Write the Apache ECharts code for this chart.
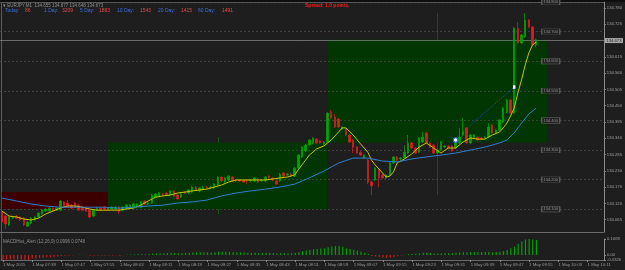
<!DOCTYPE html>
<html><head><meta charset="utf-8">
<script src="https://cdn.jsdelivr.net/npm/echarts@6/dist/echarts.min.js"></script>
<style>html,body{margin:0;padding:0;background:#1e1e1e;}#c{width:625px;height:270px;}</style>
</head><body><div id="c"></div>
<script>
// ---- data ----
const startMinute = 7 * 60 + 31; // first bar 07:31
const barCount = 165;            // slots on the time axis (incl. right margin)
const times = [];
for (let i = 0; i < barCount; i++) {
  const m = startMinute + i;
  times.push(String(Math.floor(m / 60)).padStart(2, '0') + ':' + String(m % 60).padStart(2, '0'));
}
// [open, close, low, high]
const candles = [
[134.091,134.057,134.053,134.097],[134.077,134.050,134.033,134.080],[134.047,134.074,134.043,134.077],[134.070,134.074,134.067,134.077],
[134.077,134.070,134.067,134.080],[134.074,134.064,134.060,134.077],[134.070,134.047,134.043,134.074],[134.043,134.057,134.040,134.060],
[134.053,134.070,134.050,134.074],[134.064,134.074,134.060,134.077],[134.074,134.087,134.070,134.091],[134.084,134.097,134.080,134.101],
[134.094,134.101,134.091,134.104],[134.094,134.104,134.091,134.107],[134.104,134.094,134.091,134.107],[134.097,134.104,134.094,134.107],
[134.097,134.128,134.094,134.131],[134.125,134.107,134.104,134.128],[134.121,134.107,134.104,134.131],[134.114,134.104,134.101,134.118],
[134.121,134.107,134.104,134.125],[134.114,134.097,134.094,134.118],[134.107,134.097,134.094,134.111],[134.104,134.094,134.091,134.107],
[134.097,134.074,134.070,134.101],[134.077,134.097,134.074,134.101],[134.097,134.104,134.094,134.107],[134.104,134.097,134.094,134.107],
[134.107,134.101,134.094,134.111],[134.101,134.104,134.094,134.107],[134.101,134.107,134.097,134.111],[134.101,134.107,134.097,134.111],
[134.107,134.091,134.084,134.111],[134.097,134.107,134.094,134.111],[134.101,134.114,134.097,134.118],[134.104,134.114,134.101,134.118],
[134.107,134.118,134.104,134.121],[134.111,134.118,134.107,134.121],[134.107,134.125,134.104,134.128],[134.128,134.118,134.114,134.131],
[134.118,134.121,134.114,134.125],[134.121,134.148,134.118,134.152],[134.141,134.152,134.138,134.155],[134.145,134.155,134.141,134.158],
[134.152,134.148,134.145,134.155],[134.155,134.148,134.145,134.158],[134.148,134.162,134.145,134.165],[134.162,134.145,134.141,134.165],
[134.148,134.135,134.131,134.152],[134.141,134.152,134.138,134.155],[134.158,134.155,134.152,134.162],[134.155,134.165,134.152,134.168],
[134.158,134.175,134.155,134.179],[134.175,134.165,134.162,134.179],[134.162,134.172,134.158,134.175],[134.168,134.175,134.165,134.179],
[134.175,134.172,134.168,134.179],[134.172,134.175,134.168,134.179],[134.172,134.185,134.168,134.189],[134.182,134.209,134.179,134.212],
[134.209,134.196,134.192,134.212],[134.192,134.206,134.189,134.209],[134.199,134.212,134.196,134.216],[134.209,134.196,134.192,134.212],
[134.199,134.196,134.192,134.202],[134.199,134.196,134.192,134.202],[134.199,134.192,134.189,134.202],[134.199,134.196,134.185,134.202],
[134.196,134.199,134.192,134.202],[134.196,134.206,134.192,134.209],[134.202,134.192,134.189,134.206],[134.196,134.199,134.192,134.202],
[134.196,134.209,134.192,134.212],[134.212,134.206,134.202,134.216],[134.206,134.199,134.196,134.209],[134.196,134.185,134.182,134.199],
[134.196,134.219,134.192,134.223],[134.223,134.212,134.209,134.226],[134.216,134.219,134.212,134.223],[134.219,134.212,134.209,134.223],
[134.212,134.239,134.209,134.243],[134.239,134.283,134.236,134.287],[134.277,134.310,134.273,134.314],[134.297,134.317,134.293,134.321],
[134.317,134.334,134.314,134.337],[134.324,134.341,134.321,134.344],[134.337,134.324,134.321,134.341],[134.331,134.324,134.321,134.334],
[134.321,134.327,134.317,134.331],[134.327,134.425,134.324,134.429],[134.429,134.408,134.405,134.435],[134.412,134.378,134.375,134.422],
[134.405,134.378,134.375,134.408],[134.371,134.378,134.368,134.381],[134.371,134.351,134.347,134.375],[134.351,134.327,134.324,134.354],
[134.334,134.310,134.290,134.337],[134.310,134.290,134.287,134.314],[134.293,134.283,134.280,134.297],[134.273,134.283,134.270,134.287],
[134.266,134.192,134.185,134.270],[134.192,134.179,134.148,134.196],[134.199,134.239,134.196,134.243],[134.233,134.206,134.175,134.236],
[134.216,134.206,134.202,134.219],[134.206,134.216,134.202,134.219],[134.216,134.256,134.212,134.260],[134.256,134.277,134.253,134.280],
[134.277,134.266,134.263,134.280],[134.270,134.273,134.266,134.277],[134.273,134.293,134.270,134.317],[134.290,134.324,134.287,134.351],
[134.324,134.307,134.304,134.327],[134.307,134.290,134.287,134.310],[134.293,134.341,134.290,134.344],[134.327,134.344,134.324,134.361],
[134.358,134.324,134.321,134.361],[134.324,134.310,134.307,134.327],[134.317,134.290,134.287,134.321],[134.290,134.300,134.287,134.304],
[134.300,134.327,134.297,134.331],[134.310,134.314,134.307,134.317],[134.314,134.307,134.304,134.317],[134.314,134.297,134.293,134.317],
[134.307,134.327,134.304,134.331],[134.324,134.344,134.321,134.375],[134.351,134.361,134.347,134.408],[134.375,134.324,134.321,134.378],
[134.324,134.351,134.321,134.354],[134.341,134.351,134.337,134.354],[134.344,134.334,134.331,134.347],[134.341,134.337,134.334,134.344],
[134.341,134.344,134.337,134.347],[134.344,134.378,134.341,134.391],[134.385,134.358,134.354,134.388],[134.358,134.368,134.354,134.371],
[134.368,134.402,134.364,134.405],[134.395,134.442,134.391,134.446],[134.429,134.469,134.425,134.472],[134.469,134.425,134.422,134.472],
[134.425,134.712,134.422,134.716],[134.712,134.662,134.658,134.732],[134.662,134.689,134.658,134.692],[134.682,134.739,134.679,134.763],
[134.739,134.716,134.712,134.743],[134.716,134.655,134.651,134.719],[134.655,134.673,134.648,134.677]
];
// fast MA (yellow), [bar index, value]
const maFast = [[0,134.094],[2,134.077],[4,134.074],[6,134.067],[8,134.064],[10,134.070],[12,134.084],[14,134.094],[16,134.104],[18,134.111],
[20,134.111],[22,134.107],[24,134.101],[26,134.097],[28,134.097],[30,134.097],[32,134.097],[34,134.101],[36,134.104],[38,134.114],[40,134.128],
[42,134.141],[44,134.145],[46,134.148],[48,134.155],[50,134.158],[52,134.162],[54,134.165],[56,134.168],[58,134.175],[60,134.182],[62,134.192],
[64,134.199],[66,134.199],[68,134.199],[70,134.199],[72,134.199],[74,134.202],[76,134.206],[78,134.209],[80,134.216],[81,134.233],[82,134.250],
[83,134.266],[84,134.283],[85,134.293],[86,134.304],[88,134.314],[90,134.334],[92,134.361],[93,134.375],[94,134.375],[96,134.351],[98,134.321],
[100,134.293],[101,134.266],[102,134.250],[104,134.223],[105,134.209],[106,134.212],[107,134.226],[108,134.256],[110,134.270],[112,134.287],
[114,134.310],[116,134.324],[118,134.307],[120,134.290],[122,134.307],[124,134.307],[126,134.327],[128,134.341],[130,134.337],[132,134.337],
[134,134.351],[136,134.361],[137,134.375],[138,134.391],[139,134.415],[140,134.442],[141,134.493],[142,134.537],[143,134.587],[144,134.628],
[145,134.655],[146,134.665]];
// slow MA (blue)
const maSlow = [[0,134.138],[4,134.128],[8,134.118],[12,134.111],[16,134.107],[20,134.107],[24,134.107],[28,134.107],[32,134.104],[36,134.107],
[40,134.111],[44,134.114],[48,134.121],[52,134.125],[56,134.131],[60,134.145],[64,134.155],[68,134.162],[72,134.168],[76,134.175],[80,134.185],
[84,134.206],[88,134.229],[92,134.256],[96,134.273],[100,134.273],[104,134.263],[108,134.260],[112,134.270],[116,134.277],[120,134.283],
[124,134.290],[128,134.300],[132,134.310],[136,134.324],[138,134.334],[140,134.358],[142,134.391],[144,134.422],[146,134.442]];
// MACD histogram
const macdHist = [-0.031,-0.029,-0.029,-0.028,-0.029,-0.029,-0.031,-0.033,-0.022,-0.022,-0.018,-0.018,-0.015,-0.014,-0.011,-0.009,-0.007,-0.005,
-0.003,-0.002,0.001,0.002,0.002,0.001,-0.002,-0.003,-0.002,-0.002,-0.003,-0.003,-0.002,-0.001,-0.004,0.001,0.002,0.004,0.004,0.005,0.006,0.006,
0.008,0.011,0.012,0.013,0.013,0.014,0.014,0.014,0.012,0.013,0.014,0.016,0.018,0.019,0.019,0.019,0.018,0.018,0.019,0.022,0.022,0.022,0.022,0.021,
0.019,0.018,0.017,0.015,0.015,0.015,0.014,0.014,0.015,0.015,0.014,0.011,0.013,0.014,0.013,0.012,0.014,0.020,0.027,0.030,0.034,0.038,0.041,0.043,
0.045,0.052,0.057,0.060,0.058,0.055,0.045,0.040,0.035,0.030,0.022,0.016,0.008,-0.006,-0.009,-0.013,-0.016,-0.018,-0.016,-0.012,-0.008,-0.003,
0.002,0.006,0.007,0.009,0.012,0.015,0.016,0.014,0.011,0.011,0.011,0.012,0.012,0.014,0.016,0.017,0.019,0.019,0.020,0.020,0.020,0.020,0.020,0.020,
0.017,0.021,0.023,0.027,0.034,0.045,0.057,0.075,0.091,0.104,0.1069,0.104,0.0996];
// hourly boxes: [start bar, end bar, hour open, hour close]
const hourBoxes = [[0, 29, 134.158, 134.101], [29, 89, 134.101, 134.325], [89, 149, 134.325, 134.673]];
// hourly high-low range markers: [bar, low, high, box index]
const hourRanges = [[59, 134.084, 134.344, 1], [119, 134.148, 134.763, 2]];
const priceTicks = [134.065,134.120,134.175,134.230,134.285,134.340,134.395,134.450,134.505,134.560,134.615,134.725,134.780];
const levelLines = [134.1,134.2,134.3,134.4,134.5,134.6,134.7,134.8];
const bid = 134.673;
const levelLabelBar = 150;
const trend = [[124, 134.341], [140, 134.513]];
const circleMark = [124, 134.334];
const macdTicks = [-0.0326, 0, 0.1069];
const header = 'EURJPY,M1  134.655 134.677 134.648 134.673';
const rangeNames = ['Today:', '1 Day:', '5 Day:', '10 Day:', '20 Day:', '60 Day:'];
const rangeValues = [86, 3209, 1883, 1543, 1415, 1491];

// ---- chart ----
const FONT = '"Liberation Sans", Arial, sans-serif';
const GREEN = '#00a800', RED = '#dc1e1e';
const every8 = (i) => i % 8 === 0;
const chart = echarts.init(document.getElementById('c'));

const nameX = [5, 44, 80, 117, 158, 198], valX = [25, 62, 99, 140, 181, 222];
const graphics = [
  {type:'rect', shape:{x:0, y:0, width:625, height:2}, style:{fill:'#0e0e0e'}, silent:true},
  {type:'line', shape:{x1:0, y1:2.5, x2:604, y2:2.5}, style:{stroke:'#5a5a5a', lineWidth:1}, silent:true},
  {type:'line', shape:{x1:1.5, y1:2, x2:1.5, y2:261}, style:{stroke:'#5a5a5a', lineWidth:1}, silent:true},
  {type:'text', x:3, y:5.8, style:{text:'▾ ' + header, fill:'#8f8f8f', font:'4.5px ' + FONT, verticalAlign:'middle'}},
  {type:'text', x:305, y:6, style:{text:'Spread: 1.0 points.', fill:'#ff1a1a', font:'bold 5px ' + FONT, verticalAlign:'middle'}},
  {type:'text', x:3, y:241.5, style:{text:'MACDHist_Alert (12,26,9) 0.0996 0.0748', fill:'#8f8f8f', font:'4.5px ' + FONT, verticalAlign:'middle'}}
];
rangeNames.forEach((n, k) => {
  graphics.push({type:'text', x:nameX[k], y:11, style:{text:n, fill:'#3f6fe0', font:'5px ' + FONT, verticalAlign:'middle'}});
  graphics.push({type:'text', x:valX[k], y:11, style:{text:String(rangeValues[k]), fill:'#e84848', font:'5px ' + FONT, verticalAlign:'middle'}});
});

// range lines drawn only outside their hour box
const rangeSegs = [];
hourRanges.forEach(r => {
  const b = hourBoxes[r[3]];
  const top = Math.max(b[2], b[3]), bot = Math.min(b[2], b[3]);
  const ls = {type:'solid', color:'#0d5a0d', width:1};
  if (r[2] > top) rangeSegs.push([{coord:[times[r[0]], top], lineStyle:ls, label:{show:false}}, {coord:[times[r[0]], r[2]]}]);
  if (r[1] < bot) rangeSegs.push([{coord:[times[r[0]], r[1]], lineStyle:ls, label:{show:false}}, {coord:[times[r[0]], bot]}]);
});

const option = {
  backgroundColor: '#1e1e1e',
  animation: false,
  grid: [
    {left: 0, right: 21, top: 2, height: 230},
    {left: 0, right: 21, top: 239, height: 21}
  ],
  xAxis: [
    {type:'category', gridIndex:0, data:times, boundaryGap:true,
     axisLine:{show:true, onZero:false, lineStyle:{color:'#6a6a6a', width:1}}, axisTick:{show:false}, axisLabel:{show:false}, splitLine:{show:false}},
    {type:'category', gridIndex:1, data:times, boundaryGap:true,
     axisLine:{show:true, onZero:false, lineStyle:{color:'#6a6a6a', width:1}},
     axisTick:{show:true, interval:(i)=>every8(i), alignWithLabel:true, length:2, lineStyle:{color:'#8a8a8a'}},
     axisLabel:{show:true, interval:(i)=>every8(i), align:'left', margin:2.5, color:'#9a9a9a', fontSize:4.3, fontFamily:FONT,
       formatter:(v, i) => i === 0 ? '1 May 2015' : '1 May ' + v},
     splitLine:{show:false}}
  ],
  yAxis: [
    {type:'value', gridIndex:0, position:'right', min:134.02325, max:134.8003, scale:true,
     axisLine:{show:true, lineStyle:{color:'#8a8a8a', width:1}},
     axisTick:{show:true, length:2, customValues:priceTicks, lineStyle:{color:'#8a8a8a'}},
     axisLabel:{show:true, customValues:priceTicks, margin:3, color:'#a0a0a0', fontSize:4.2, fontFamily:FONT, formatter:(v)=>v.toFixed(3)},
     splitLine:{show:false}},
    {type:'value', gridIndex:1, position:'right', min:-0.0326, max:0.1069,
     axisLine:{show:true, lineStyle:{color:'#8a8a8a', width:1}},
     axisTick:{show:true, length:2, customValues:macdTicks, lineStyle:{color:'#8a8a8a'}},
     axisLabel:{show:true, customValues:macdTicks, margin:3, color:'#a0a0a0', fontSize:4.2, fontFamily:FONT,
       formatter:(v)=> v === 0 ? '0.00' : v.toFixed(4)},
     splitLine:{show:false}}
  ],
  graphic: graphics,
  series: [
    {
      type:'candlestick', name:'EURJPY', xAxisIndex:0, yAxisIndex:0, z:3, barWidth:2,
      data: candles,
      itemStyle:{color:GREEN, color0:RED, borderColor:GREEN, borderColor0:RED, borderWidth:0.7},
      markArea:{
        silent:true, z:1,
        data: hourBoxes.map(b => [
          {xAxis:times[b[0]], yAxis:b[2], itemStyle:{color: b[3] >= b[2] ? '#013501' : '#3c0000', opacity:1}},
          {xAxis:times[b[1]], yAxis:b[3]}
        ])
      },
      markPoint:{
        silent:true, z:6,
        data: levelLines.map(v => ({
          coord:[times[levelLabelBar], v], value:v, symbol:'rect', symbolSize:[18, 5.5],
          itemStyle:{color:'#232323', borderColor:'#6a6a6a', borderWidth:0.6},
          label:{show:true, position:'inside', formatter:(p)=>p.value.toFixed(3), color:'#8c8c8c', fontSize:4, fontFamily:FONT}
        })).concat([
          {coord:[times[circleMark[0]], circleMark[1]], symbol:'circle', symbolSize:4.5,
           itemStyle:{color:'#ffffff', borderColor:'#2f5fff', borderWidth:1.2}, label:{show:false}},
          {coord:[times[trend[1][0]], trend[1][1]], symbol:'rect', symbolSize:[2.5, 3.5],
           itemStyle:{color:'#ffffff'}, label:{show:false}}
        ])
      }
    },
    {
      type:'line', name:'MA fast', xAxisIndex:0, yAxisIndex:0, z:4, data:maFast, showSymbol:false, symbol:'none',
      lineStyle:{color:'#c8c400', width:1},
      markLine:{
        silent:true, z:2.5, symbol:['none','none'],
        data: levelLines.map(v => ({yAxis:v, lineStyle:{type:[2,2], color:'#4e4e4e', width:0.7}, label:{show:false}}))
          .concat([
            {yAxis:bid, lineStyle:{type:'solid', color:'#8a8a8a', width:0.7},
             label:{show:true, position:'end', distance:1, formatter:bid.toFixed(3), backgroundColor:'#a8a8a8', color:'#1e1e1e',
                    fontSize:4.2, fontFamily:FONT, padding:[0.5, 1.5]}},
            [{coord:[times[trend[0][0]], trend[0][1]], lineStyle:{type:[1,1.5], color:'#2050e0', width:1}, label:{show:false}},
             {coord:[times[trend[1][0]], trend[1][1]]}]
          ])
      }
    },
    {
      type:'line', name:'MA slow', xAxisIndex:0, yAxisIndex:0, z:4, data:maSlow, showSymbol:false, symbol:'none',
      lineStyle:{color:'#2e7fd0', width:1},
      markLine:{silent:true, z:2, symbol:['none','none'], data: rangeSegs}
    },
    {
      type:'bar', name:'MACD', xAxisIndex:1, yAxisIndex:1, data:macdHist, barWidth:1.2,
      itemStyle:{color:(p)=> p.value >= 0 ? '#00a000' : '#d01c1c'}
    }
  ]
};
chart.setOption(option);
</script>
</body></html>
